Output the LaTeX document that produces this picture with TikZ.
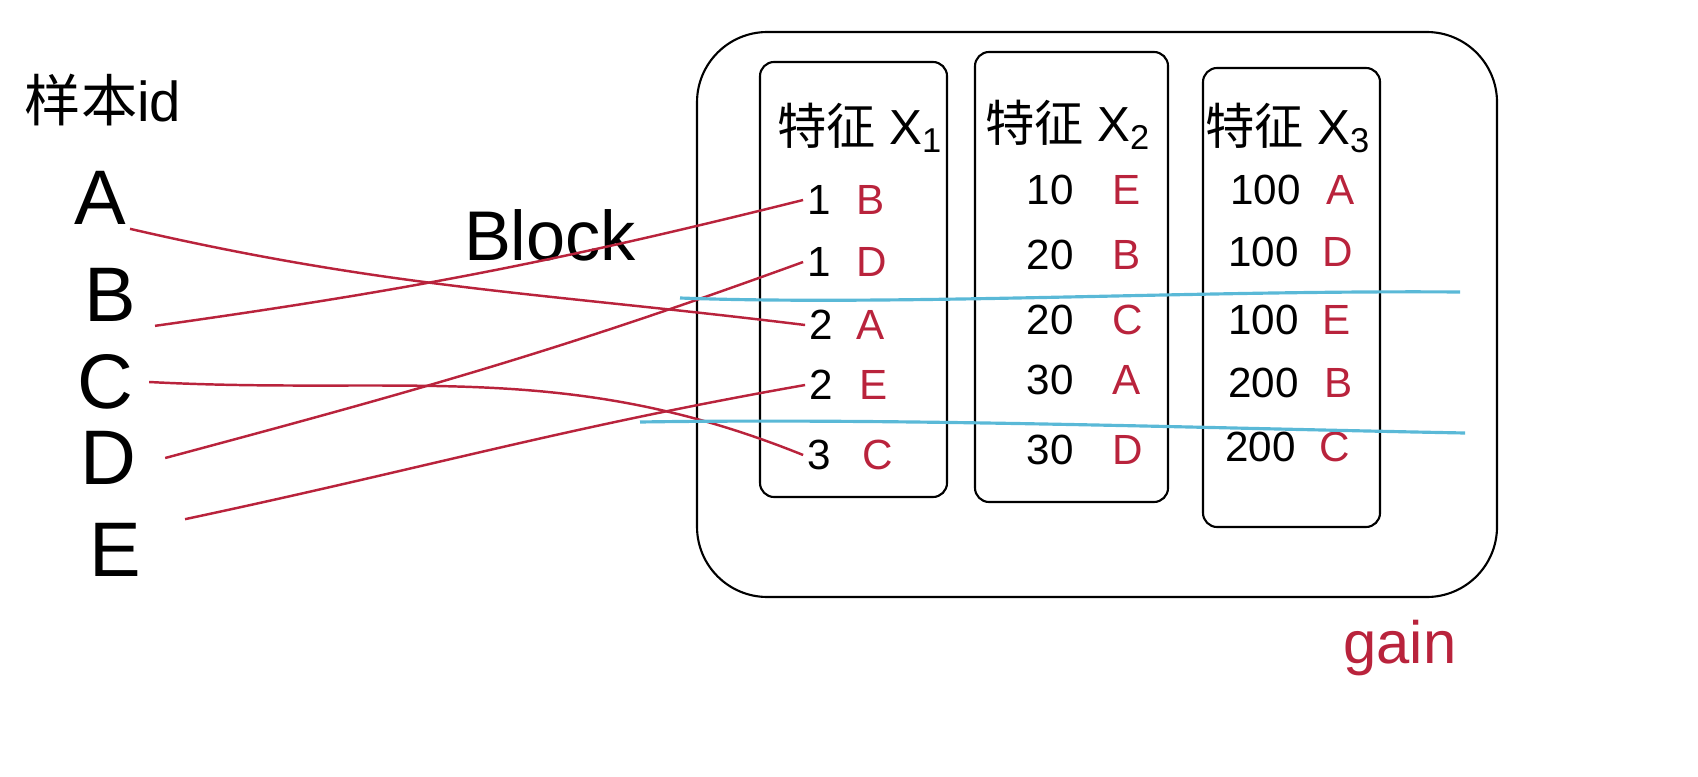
\documentclass[tikz,border=0pt]{standalone}
\usepackage{fontspec}
\setmainfont{Liberation Sans}
\newfontfamily\cjk{Noto Sans CJK SC}
\definecolor{idred}{RGB}{185,35,60}
\definecolor{cutblue}{RGB}{90,185,215}

\begin{document}
\begin{tikzpicture}[x=0.01cm,y=-0.01cm,
    sample/.style={font=\fontsize{22}{22}\selectfont,inner sep=1pt},
    num/.style={anchor=east,font=\fontsize{12}{12}\selectfont,inner sep=1pt},
    sid/.style={anchor=west,text=idred,font=\fontsize{12}{12}\selectfont,inner sep=1pt},
    head/.style={font=\fontsize{14}{14}\selectfont},
    col/.style={line width=0.6pt,rounded corners=4pt},
    link/.style={idred,line width=0.7pt},
    cut/.style={cutblue,line width=0.9pt}]
    \useasboundingbox (0,0) rectangle (1698,776);
    %左边的样本
    \node[font=\fontsize{16}{16}\selectfont] (title) at (103,100) {{\cjk 样本}id};
    \node[sample] (A) at (100,198) {A};
    \node[sample] (B) at (110,295) {B};
    \node[sample] (C) at (105,382) {C};
    \node[sample] (D) at (108,458) {D};
    \node[sample] (E) at (115,550) {E};
    \node[font=\fontsize{20}{20}\selectfont] (block) at (550,235) {Block};
    %外框和三列
    \draw[col,rounded corners=20pt] (697,32) rectangle (1497,597);
    \draw[col] (760,62) rectangle (947,497);
    \draw[col] (975,52) rectangle (1168,502);
    \draw[col] (1203,68) rectangle (1380,527);
    \node[head] (h1) at (860,128) {{\cjk 特征} X\textsubscript{1}};
    \node[head] (h2) at (1068,125) {{\cjk 特征} X\textsubscript{2}};
    \node[head] (h3) at (1288,128) {{\cjk 特征} X\textsubscript{3}};
    %特征 X1
    \node[num] (n11) at (835,200) {1}; \node[sid] (s11) at (852,200) {B};
    \node[num] (n12) at (835,262) {1}; \node[sid] (s12) at (852,262) {D};
    \node[num] (n13) at (837,325) {2}; \node[sid] (s13) at (852,325) {A};
    \node[num] (n14) at (837,385) {2}; \node[sid] (s14) at (855,385) {E};
    \node[num] (n15) at (835,455) {3}; \node[sid] (s15) at (858,455) {C};
    %特征 X2
    \node[num] (n21) at (1078,190) {10}; \node[sid] (s21) at (1108,190) {E};
    \node[num] (n22) at (1078,255) {20}; \node[sid] (s22) at (1108,255) {B};
    \node[num] (n23) at (1078,320) {20}; \node[sid] (s23) at (1108,320) {C};
    \node[num] (n24) at (1078,380) {30}; \node[sid] (s24) at (1108,380) {A};
    \node[num] (n25) at (1078,450) {30}; \node[sid] (s25) at (1108,450) {D};
    %特征 X3
    \node[num] (n31) at (1305,190) {100}; \node[sid] (s31) at (1322,190) {A};
    \node[num] (n32) at (1303,252) {100}; \node[sid] (s32) at (1318,252) {D};
    \node[num] (n33) at (1303,320) {100}; \node[sid] (s33) at (1318,320) {E};
    \node[num] (n34) at (1303,383) {200}; \node[sid] (s34) at (1320,383) {B};
    \node[num] (n35) at (1300,447) {200}; \node[sid] (s35) at (1315,447) {C};
    %样本连到特征 X1 的位置
    \draw[link] (A.south east) to[out=-13,in=173] (n13.west);
    \draw[link] ([xshift=0.15cm]B.south east) to[out=8,in=194] (n11.west);
    \draw[link] ([xshift=0.12cm]C.east) to[out=-3,in=158] (n15.west);
    \draw[link] ([xshift=0.25cm]D.east) to[out=15,in=200] (n12.west);
    \draw[link] ([xshift=0.4cm]E.north east) to[out=12,in=190] (n14.west);
    %分桶的两条线
    \draw[cut] (680,298) .. controls (900,306) and (1200,290) .. (1460,292);
    \draw[cut] (640,422) .. controls (900,418) and (1200,428) .. (1465,433);
    \node[text=idred,font=\fontsize{17}{17}\selectfont] (gain) at (1400,648) {gain};
\end{tikzpicture}
\end{document}
